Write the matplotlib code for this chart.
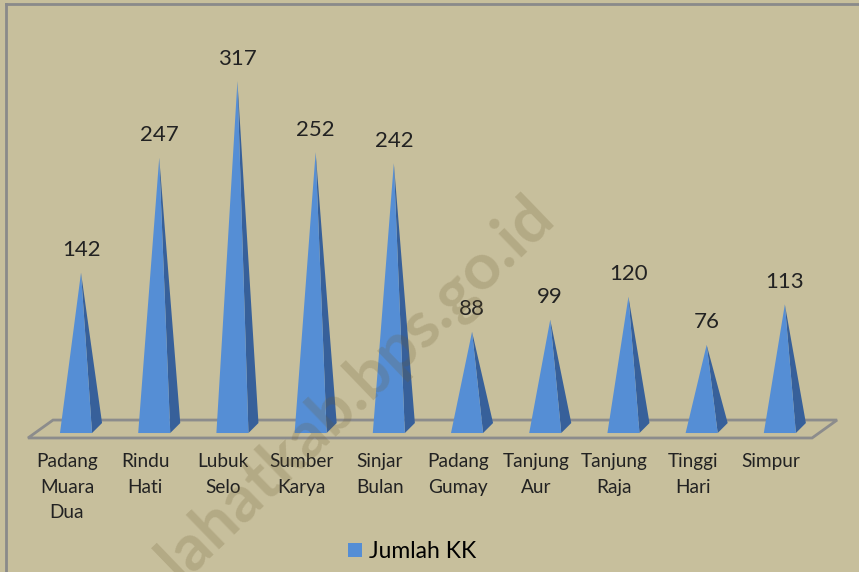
import numpy as np
import matplotlib.pyplot as plt
from matplotlib.patches import Polygon, Patch
from matplotlib.lines import Line2D

# Jumlah KK per desa
desa = ['Padang\nMuara\nDua', 'Rindu\nHati', 'Lubuk\nSelo', 'Sumber\nKarya',
        'Sinjar\nBulan', 'Padang\nGumay', 'Tanjung\nAur', 'Tanjung\nRaja',
        'Tinggi\nHari', 'Simpur']
jumlah_kk = [142, 247, 317, 252, 242, 88, 99, 120, 76, 113]

bg = '#c7bf9c'
biru = '#558ed5'
biru_gelap = '#37609a'
teks = '#222222'

plt.rcParams['font.family'] = ['Lato', 'DejaVu Sans']

fig = plt.figure(figsize=(8.59, 5.72), dpi=100, facecolor=bg)
ax = fig.add_axes([0.0488, 0.2517, 0.9104, 0.6503])
ax.set_xlim(-0.5, 9.5)
ax.set_ylim(0, 340)
ax.axis('off')

# ukuran piramida (satuan data)
lebar = 0.205   # setengah lebar alas depan
dx = 0.064      # geser kedalaman (x)
dy = 4.57       # geser kedalaman (y)

# lantai
lantai = Polygon([(-0.678, -9.1), (-0.358, 7.3), (9.668, 7.3), (9.348, -9.1)],
                 closed=True, facecolor='none', edgecolor='#8c8c8c',
                 linewidth=2, clip_on=False, zorder=1)
ax.add_patch(lantai)

for i, v in enumerate(jumlah_kk):
    depan = Polygon([(i - dx - lebar, -dy), (i - dx + lebar, -dy), (i, v)],
                    closed=True, facecolor=biru, edgecolor='none',
                    clip_on=False, zorder=3)
    samping = Polygon([(i - dx + lebar, -dy), (i + dx + lebar, dy), (i, v)],
                      closed=True, facecolor=biru_gelap, edgecolor='none',
                      clip_on=False, zorder=2)
    ax.add_patch(samping)
    ax.add_patch(depan)
    ax.annotate(str(v), (i, v), xytext=(0, 9), textcoords='offset points',
                ha='center', va='bottom', fontsize=16, color=teks)
    ax.text(i - 0.18, -23, desa[i], ha='center', va='top', fontsize=13.7,
            color=teks, linespacing=1.6, clip_on=False)

fig.legend(handles=[Patch(facecolor=biru)], labels=['Jumlah KK'],
           loc='center', bbox_to_anchor=(0.48, 0.036), frameon=False,
           fontsize=16.5, handlelength=0.6, handleheight=0.6,
           handletextpad=0.3)

# watermark
fig.text(0.648, 0.617, 'lahatkab.bps.go.id', rotation=44, rotation_mode='anchor',
         ha='right', va='baseline', fontsize=47, fontweight='bold',
         color=(0.43, 0.37, 0.2, 0.22), zorder=10)

# bingkai
fig.add_artist(Line2D([0.007, 1.0], [0.993, 0.993], color='#8a8a8a', linewidth=2))
fig.add_artist(Line2D([0.007, 0.007], [0.0, 0.993], color='#8a8a8a', linewidth=2))

plt.savefig('out.png', dpi=100, facecolor=bg)
